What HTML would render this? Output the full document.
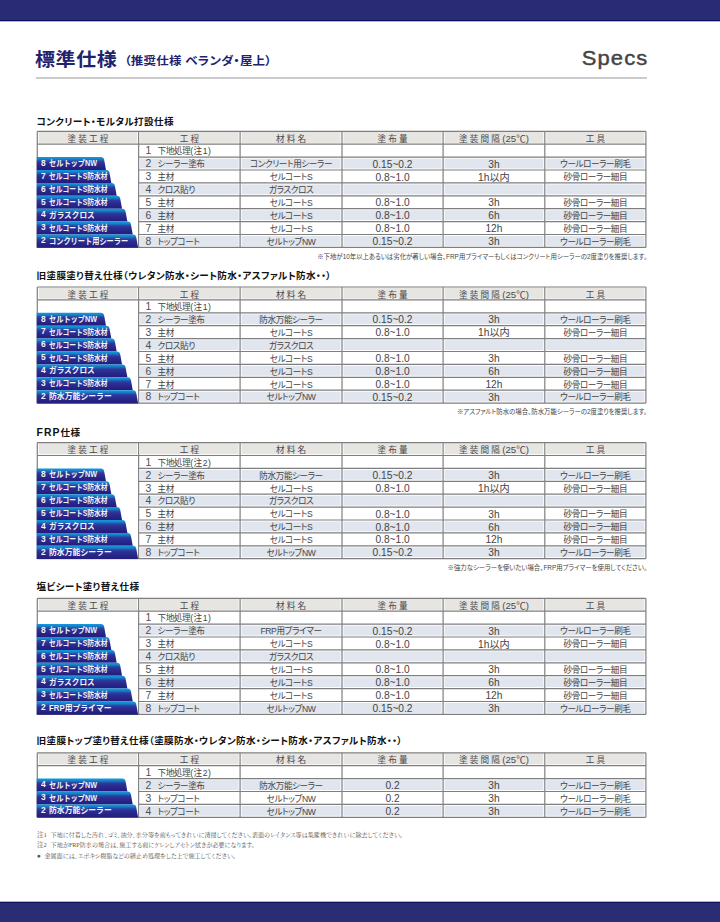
<!DOCTYPE html>
<html lang="ja"><head><meta charset="utf-8"><title>Specs</title>
<style>
*{margin:0;padding:0;box-sizing:border-box}
html,body{width:720px;height:922px;background:#fff;overflow:hidden}
body{position:relative;font-feature-settings:"palt";font-family:"Liberation Sans","Noto Sans CJK JP",sans-serif;color:#333}
.abs,.bt,.hd,.c2,.cc,.cn,.st,.fn{position:absolute;white-space:nowrap}
#g{position:absolute;left:0;top:0}
.topbar{position:absolute;left:0;top:0;width:720px;height:21px;background:#292b74;border-bottom:1px solid #0c0d5e;box-shadow:0 1px 0 rgba(40,40,110,0.35)}
.botbar{position:absolute;left:0;top:902px;width:720px;height:20px;background:#2a2c74;border-top:1px solid #0c0d5e;box-shadow:0 -1px 0 rgba(40,40,110,0.35)}
.h1{position:absolute;left:35px;top:45.5px;font-size:20px;font-weight:bold;color:#1e2370;letter-spacing:0.6px;line-height:28px;transform:scaleY(0.93);transform-origin:0 12.6px}
.h1 small{font-size:12.5px;letter-spacing:0.2px;margin-left:7px;vertical-align:1px}
.specs{position:absolute;right:71.2px;top:43.8px;font-size:20.5px;color:#444;letter-spacing:1.1px;transform:scaleX(1.07);transform-origin:100% 50%;-webkit-text-stroke:0.45px #444;line-height:28px;font-family:"Liberation Sans",sans-serif}
.rule{position:absolute;left:36px;top:77px;width:611px;height:2px;background:#cbcbcb}
.bt{left:40.3px;height:12.9px;line-height:12.9px;padding-top:0.9px;font-size:8.4px;font-weight:bold;color:#f2f2f8;font-feature-settings:normal}
.bn{display:inline-block;width:8.4px;font-size:9.6px;transform:scaleX(0.88);transform-origin:0 0;position:relative;left:0.8px;top:-0.3px}
.bx{display:inline-block;transform:scaleX(0.86);transform-origin:0 0}
.hd{height:12.9px;line-height:12.9px;padding-top:1.6px;font-size:8.6px;color:#4a4a4a;text-align:center}
.hd .t25{font-size:9.6px}
.hd .sp{letter-spacing:2.2px;margin-right:-2.2px}
.c2{left:145.5px;height:12.9px;line-height:12.9px;padding-top:1.3px;font-size:8.6px;letter-spacing:-0.42px;color:#444;font-weight:400}
.c2 .pn{letter-spacing:0.5px}
.c2 .no{display:inline-block;width:12px;letter-spacing:0;font-size:10.4px;color:#505050}
.cc{height:12.9px;line-height:12.9px;padding-top:1.3px;font-size:8.6px;letter-spacing:-0.42px;color:#444;text-align:center;font-weight:400}
.cn{height:12.9px;line-height:12.9px;padding-top:1.5px;font-size:10.2px;letter-spacing:0;color:#444;text-align:center}
.st{left:36.5px;font-size:9.6px;font-weight:bold;color:#111;line-height:14px;letter-spacing:0.35px}
.st .lat{font-size:10.4px;letter-spacing:1.1px}
.fn{right:73px;font-size:6.4px;color:#444;line-height:8px}
.notes{position:absolute;left:37px;top:830px;font-family:"Liberation Serif","Noto Serif CJK JP",serif;font-size:6.1px;color:#555;line-height:10.3px;white-space:nowrap}
.notes .nh{display:inline-block;width:13.6px;font-size:6.6px}
.notes .nb{display:inline-block;width:7.4px;font-size:6.6px;vertical-align:0}
</style></head><body>
<div class="topbar"></div>
<div class="h1">標準仕様<small>（推奨仕様 ベランダ・屋上）</small></div>
<div class="specs">Specs</div>
<div class="rule"></div>
<svg id="g" width="720" height="922" viewBox="0 0 720 922"><defs><linearGradient id="bg" x1="0" y1="0" x2="0" y2="1"><stop offset="0" stop-color="#1399da"/><stop offset="0.14" stop-color="#1686cc"/><stop offset="0.36" stop-color="#2a3b9e"/><stop offset="0.55" stop-color="#2c2b8e"/><stop offset="1" stop-color="#221c7e"/></linearGradient></defs><rect x="38.8" y="132" width="98.3" height="10.9" fill="#e7e5e2"/><rect x="140.1" y="132" width="98.5" height="10.9" fill="#e7e5e2"/><rect x="241.6" y="132" width="98.9" height="10.9" fill="#e7e5e2"/><rect x="343.5" y="132" width="98.1" height="10.9" fill="#e7e5e2"/><rect x="444.6" y="132" width="98.7" height="10.9" fill="#e7e5e2"/><rect x="546.3" y="132" width="98.1" height="10.9" fill="#e7e5e2"/><rect x="140.1" y="158.6" width="98.5" height="9.9" fill="#e0e5ee"/><rect x="241.6" y="158.6" width="98.9" height="9.9" fill="#e0e5ee"/><rect x="343.5" y="158.6" width="98.1" height="9.9" fill="#e0e5ee"/><rect x="444.6" y="158.6" width="98.7" height="9.9" fill="#e0e5ee"/><rect x="546.3" y="158.6" width="98.1" height="9.9" fill="#e0e5ee"/><rect x="140.1" y="184.4" width="98.5" height="9.9" fill="#e0e5ee"/><rect x="241.6" y="184.4" width="98.9" height="9.9" fill="#e0e5ee"/><rect x="343.5" y="184.4" width="98.1" height="9.9" fill="#e0e5ee"/><rect x="444.6" y="184.4" width="98.7" height="9.9" fill="#e0e5ee"/><rect x="546.3" y="184.4" width="98.1" height="9.9" fill="#e0e5ee"/><rect x="140.1" y="210.2" width="98.5" height="9.9" fill="#e0e5ee"/><rect x="241.6" y="210.2" width="98.9" height="9.9" fill="#e0e5ee"/><rect x="343.5" y="210.2" width="98.1" height="9.9" fill="#e0e5ee"/><rect x="444.6" y="210.2" width="98.7" height="9.9" fill="#e0e5ee"/><rect x="546.3" y="210.2" width="98.1" height="9.9" fill="#e0e5ee"/><rect x="140.1" y="236" width="98.5" height="9.9" fill="#e0e5ee"/><rect x="241.6" y="236" width="98.9" height="9.9" fill="#e0e5ee"/><rect x="343.5" y="236" width="98.1" height="9.9" fill="#e0e5ee"/><rect x="444.6" y="236" width="98.7" height="9.9" fill="#e0e5ee"/><rect x="546.3" y="236" width="98.1" height="9.9" fill="#e0e5ee"/><line x1="37.3" y1="131.3" x2="645.9" y2="131.3" stroke="#7e7e7e" stroke-width="1.2"/><line x1="37.3" y1="144.2" x2="645.9" y2="144.2" stroke="#7e7e7e" stroke-width="1.2"/><line x1="138.6" y1="157.1" x2="645.9" y2="157.1" stroke="#7e7e7e" stroke-width="1.2"/><line x1="138.6" y1="170" x2="645.9" y2="170" stroke="#7e7e7e" stroke-width="1.2"/><line x1="138.6" y1="182.9" x2="645.9" y2="182.9" stroke="#7e7e7e" stroke-width="1.2"/><line x1="138.6" y1="195.8" x2="645.9" y2="195.8" stroke="#7e7e7e" stroke-width="1.2"/><line x1="138.6" y1="208.7" x2="645.9" y2="208.7" stroke="#7e7e7e" stroke-width="1.2"/><line x1="138.6" y1="221.6" x2="645.9" y2="221.6" stroke="#7e7e7e" stroke-width="1.2"/><line x1="138.6" y1="234.5" x2="645.9" y2="234.5" stroke="#7e7e7e" stroke-width="1.2"/><line x1="37.3" y1="247.4" x2="645.9" y2="247.4" stroke="#7e7e7e" stroke-width="1.2"/><line x1="37.3" y1="131.3" x2="37.3" y2="247.4" stroke="#848484" stroke-width="1.25"/><line x1="138.6" y1="131.3" x2="138.6" y2="247.4" stroke="#848484" stroke-width="1.25"/><line x1="240.1" y1="131.3" x2="240.1" y2="247.4" stroke="#848484" stroke-width="1.25"/><line x1="342" y1="131.3" x2="342" y2="247.4" stroke="#848484" stroke-width="1.25"/><line x1="443.1" y1="131.3" x2="443.1" y2="247.4" stroke="#848484" stroke-width="1.25"/><line x1="544.8" y1="131.3" x2="544.8" y2="247.4" stroke="#848484" stroke-width="1.25"/><line x1="645.9" y1="131.3" x2="645.9" y2="247.4" stroke="#848484" stroke-width="1.25"/><path d="M36.7,157.1 L100.8,157.1 Q103.8,157.1 104.2,160.1 L106,170 L36.7,170 Z" fill="url(#bg)"/><path d="M36.7,170 L106.15,170 Q109.15,170 109.55,173 L111.35,182.9 L36.7,182.9 Z" fill="url(#bg)"/><path d="M36.7,182.9 L111.5,182.9 Q114.5,182.9 114.9,185.9 L116.7,195.8 L36.7,195.8 Z" fill="url(#bg)"/><path d="M36.7,195.8 L116.85,195.8 Q119.85,195.8 120.25,198.8 L122.05,208.7 L36.7,208.7 Z" fill="url(#bg)"/><path d="M36.7,208.7 L122.2,208.7 Q125.2,208.7 125.6,211.7 L127.4,221.6 L36.7,221.6 Z" fill="url(#bg)"/><path d="M36.7,221.6 L127.55,221.6 Q130.55,221.6 130.95,224.6 L132.75,234.5 L36.7,234.5 Z" fill="url(#bg)"/><path d="M36.7,234.5 L132.9,234.5 Q135.9,234.5 136.3,237.5 L138.1,247.7 L36.7,247.7 Z" fill="url(#bg)"/><rect x="38.8" y="287.7" width="98.3" height="10.9" fill="#e7e5e2"/><rect x="140.1" y="287.7" width="98.5" height="10.9" fill="#e7e5e2"/><rect x="241.6" y="287.7" width="98.9" height="10.9" fill="#e7e5e2"/><rect x="343.5" y="287.7" width="98.1" height="10.9" fill="#e7e5e2"/><rect x="444.6" y="287.7" width="98.7" height="10.9" fill="#e7e5e2"/><rect x="546.3" y="287.7" width="98.1" height="10.9" fill="#e7e5e2"/><rect x="140.1" y="314.3" width="98.5" height="9.9" fill="#e0e5ee"/><rect x="241.6" y="314.3" width="98.9" height="9.9" fill="#e0e5ee"/><rect x="343.5" y="314.3" width="98.1" height="9.9" fill="#e0e5ee"/><rect x="444.6" y="314.3" width="98.7" height="9.9" fill="#e0e5ee"/><rect x="546.3" y="314.3" width="98.1" height="9.9" fill="#e0e5ee"/><rect x="140.1" y="340.1" width="98.5" height="9.9" fill="#e0e5ee"/><rect x="241.6" y="340.1" width="98.9" height="9.9" fill="#e0e5ee"/><rect x="343.5" y="340.1" width="98.1" height="9.9" fill="#e0e5ee"/><rect x="444.6" y="340.1" width="98.7" height="9.9" fill="#e0e5ee"/><rect x="546.3" y="340.1" width="98.1" height="9.9" fill="#e0e5ee"/><rect x="140.1" y="365.9" width="98.5" height="9.9" fill="#e0e5ee"/><rect x="241.6" y="365.9" width="98.9" height="9.9" fill="#e0e5ee"/><rect x="343.5" y="365.9" width="98.1" height="9.9" fill="#e0e5ee"/><rect x="444.6" y="365.9" width="98.7" height="9.9" fill="#e0e5ee"/><rect x="546.3" y="365.9" width="98.1" height="9.9" fill="#e0e5ee"/><rect x="140.1" y="391.7" width="98.5" height="9.9" fill="#e0e5ee"/><rect x="241.6" y="391.7" width="98.9" height="9.9" fill="#e0e5ee"/><rect x="343.5" y="391.7" width="98.1" height="9.9" fill="#e0e5ee"/><rect x="444.6" y="391.7" width="98.7" height="9.9" fill="#e0e5ee"/><rect x="546.3" y="391.7" width="98.1" height="9.9" fill="#e0e5ee"/><line x1="37.3" y1="287" x2="645.9" y2="287" stroke="#7e7e7e" stroke-width="1.2"/><line x1="37.3" y1="299.9" x2="645.9" y2="299.9" stroke="#7e7e7e" stroke-width="1.2"/><line x1="138.6" y1="312.8" x2="645.9" y2="312.8" stroke="#7e7e7e" stroke-width="1.2"/><line x1="138.6" y1="325.7" x2="645.9" y2="325.7" stroke="#7e7e7e" stroke-width="1.2"/><line x1="138.6" y1="338.6" x2="645.9" y2="338.6" stroke="#7e7e7e" stroke-width="1.2"/><line x1="138.6" y1="351.5" x2="645.9" y2="351.5" stroke="#7e7e7e" stroke-width="1.2"/><line x1="138.6" y1="364.4" x2="645.9" y2="364.4" stroke="#7e7e7e" stroke-width="1.2"/><line x1="138.6" y1="377.3" x2="645.9" y2="377.3" stroke="#7e7e7e" stroke-width="1.2"/><line x1="138.6" y1="390.2" x2="645.9" y2="390.2" stroke="#7e7e7e" stroke-width="1.2"/><line x1="37.3" y1="403.1" x2="645.9" y2="403.1" stroke="#7e7e7e" stroke-width="1.2"/><line x1="37.3" y1="287" x2="37.3" y2="403.1" stroke="#848484" stroke-width="1.25"/><line x1="138.6" y1="287" x2="138.6" y2="403.1" stroke="#848484" stroke-width="1.25"/><line x1="240.1" y1="287" x2="240.1" y2="403.1" stroke="#848484" stroke-width="1.25"/><line x1="342" y1="287" x2="342" y2="403.1" stroke="#848484" stroke-width="1.25"/><line x1="443.1" y1="287" x2="443.1" y2="403.1" stroke="#848484" stroke-width="1.25"/><line x1="544.8" y1="287" x2="544.8" y2="403.1" stroke="#848484" stroke-width="1.25"/><line x1="645.9" y1="287" x2="645.9" y2="403.1" stroke="#848484" stroke-width="1.25"/><path d="M36.7,312.8 L100.8,312.8 Q103.8,312.8 104.2,315.8 L106,325.7 L36.7,325.7 Z" fill="url(#bg)"/><path d="M36.7,325.7 L106.15,325.7 Q109.15,325.7 109.55,328.7 L111.35,338.6 L36.7,338.6 Z" fill="url(#bg)"/><path d="M36.7,338.6 L111.5,338.6 Q114.5,338.6 114.9,341.6 L116.7,351.5 L36.7,351.5 Z" fill="url(#bg)"/><path d="M36.7,351.5 L116.85,351.5 Q119.85,351.5 120.25,354.5 L122.05,364.4 L36.7,364.4 Z" fill="url(#bg)"/><path d="M36.7,364.4 L122.2,364.4 Q125.2,364.4 125.6,367.4 L127.4,377.3 L36.7,377.3 Z" fill="url(#bg)"/><path d="M36.7,377.3 L127.55,377.3 Q130.55,377.3 130.95,380.3 L132.75,390.2 L36.7,390.2 Z" fill="url(#bg)"/><path d="M36.7,390.2 L132.9,390.2 Q135.9,390.2 136.3,393.2 L138.1,403.4 L36.7,403.4 Z" fill="url(#bg)"/><rect x="38.8" y="443.3" width="98.3" height="10.9" fill="#e7e5e2"/><rect x="140.1" y="443.3" width="98.5" height="10.9" fill="#e7e5e2"/><rect x="241.6" y="443.3" width="98.9" height="10.9" fill="#e7e5e2"/><rect x="343.5" y="443.3" width="98.1" height="10.9" fill="#e7e5e2"/><rect x="444.6" y="443.3" width="98.7" height="10.9" fill="#e7e5e2"/><rect x="546.3" y="443.3" width="98.1" height="10.9" fill="#e7e5e2"/><rect x="140.1" y="469.9" width="98.5" height="9.9" fill="#e0e5ee"/><rect x="241.6" y="469.9" width="98.9" height="9.9" fill="#e0e5ee"/><rect x="343.5" y="469.9" width="98.1" height="9.9" fill="#e0e5ee"/><rect x="444.6" y="469.9" width="98.7" height="9.9" fill="#e0e5ee"/><rect x="546.3" y="469.9" width="98.1" height="9.9" fill="#e0e5ee"/><rect x="140.1" y="495.7" width="98.5" height="9.9" fill="#e0e5ee"/><rect x="241.6" y="495.7" width="98.9" height="9.9" fill="#e0e5ee"/><rect x="343.5" y="495.7" width="98.1" height="9.9" fill="#e0e5ee"/><rect x="444.6" y="495.7" width="98.7" height="9.9" fill="#e0e5ee"/><rect x="546.3" y="495.7" width="98.1" height="9.9" fill="#e0e5ee"/><rect x="140.1" y="521.5" width="98.5" height="9.9" fill="#e0e5ee"/><rect x="241.6" y="521.5" width="98.9" height="9.9" fill="#e0e5ee"/><rect x="343.5" y="521.5" width="98.1" height="9.9" fill="#e0e5ee"/><rect x="444.6" y="521.5" width="98.7" height="9.9" fill="#e0e5ee"/><rect x="546.3" y="521.5" width="98.1" height="9.9" fill="#e0e5ee"/><rect x="140.1" y="547.3" width="98.5" height="9.9" fill="#e0e5ee"/><rect x="241.6" y="547.3" width="98.9" height="9.9" fill="#e0e5ee"/><rect x="343.5" y="547.3" width="98.1" height="9.9" fill="#e0e5ee"/><rect x="444.6" y="547.3" width="98.7" height="9.9" fill="#e0e5ee"/><rect x="546.3" y="547.3" width="98.1" height="9.9" fill="#e0e5ee"/><line x1="37.3" y1="442.6" x2="645.9" y2="442.6" stroke="#7e7e7e" stroke-width="1.2"/><line x1="37.3" y1="455.5" x2="645.9" y2="455.5" stroke="#7e7e7e" stroke-width="1.2"/><line x1="138.6" y1="468.4" x2="645.9" y2="468.4" stroke="#7e7e7e" stroke-width="1.2"/><line x1="138.6" y1="481.3" x2="645.9" y2="481.3" stroke="#7e7e7e" stroke-width="1.2"/><line x1="138.6" y1="494.2" x2="645.9" y2="494.2" stroke="#7e7e7e" stroke-width="1.2"/><line x1="138.6" y1="507.1" x2="645.9" y2="507.1" stroke="#7e7e7e" stroke-width="1.2"/><line x1="138.6" y1="520" x2="645.9" y2="520" stroke="#7e7e7e" stroke-width="1.2"/><line x1="138.6" y1="532.9" x2="645.9" y2="532.9" stroke="#7e7e7e" stroke-width="1.2"/><line x1="138.6" y1="545.8" x2="645.9" y2="545.8" stroke="#7e7e7e" stroke-width="1.2"/><line x1="37.3" y1="558.7" x2="645.9" y2="558.7" stroke="#7e7e7e" stroke-width="1.2"/><line x1="37.3" y1="442.6" x2="37.3" y2="558.7" stroke="#848484" stroke-width="1.25"/><line x1="138.6" y1="442.6" x2="138.6" y2="558.7" stroke="#848484" stroke-width="1.25"/><line x1="240.1" y1="442.6" x2="240.1" y2="558.7" stroke="#848484" stroke-width="1.25"/><line x1="342" y1="442.6" x2="342" y2="558.7" stroke="#848484" stroke-width="1.25"/><line x1="443.1" y1="442.6" x2="443.1" y2="558.7" stroke="#848484" stroke-width="1.25"/><line x1="544.8" y1="442.6" x2="544.8" y2="558.7" stroke="#848484" stroke-width="1.25"/><line x1="645.9" y1="442.6" x2="645.9" y2="558.7" stroke="#848484" stroke-width="1.25"/><path d="M36.7,468.4 L100.8,468.4 Q103.8,468.4 104.2,471.4 L106,481.3 L36.7,481.3 Z" fill="url(#bg)"/><path d="M36.7,481.3 L106.15,481.3 Q109.15,481.3 109.55,484.3 L111.35,494.2 L36.7,494.2 Z" fill="url(#bg)"/><path d="M36.7,494.2 L111.5,494.2 Q114.5,494.2 114.9,497.2 L116.7,507.1 L36.7,507.1 Z" fill="url(#bg)"/><path d="M36.7,507.1 L116.85,507.1 Q119.85,507.1 120.25,510.1 L122.05,520 L36.7,520 Z" fill="url(#bg)"/><path d="M36.7,520 L122.2,520 Q125.2,520 125.6,523 L127.4,532.9 L36.7,532.9 Z" fill="url(#bg)"/><path d="M36.7,532.9 L127.55,532.9 Q130.55,532.9 130.95,535.9 L132.75,545.8 L36.7,545.8 Z" fill="url(#bg)"/><path d="M36.7,545.8 L132.9,545.8 Q135.9,545.8 136.3,548.8 L138.1,559 L36.7,559 Z" fill="url(#bg)"/><rect x="38.8" y="599" width="98.3" height="10.9" fill="#e7e5e2"/><rect x="140.1" y="599" width="98.5" height="10.9" fill="#e7e5e2"/><rect x="241.6" y="599" width="98.9" height="10.9" fill="#e7e5e2"/><rect x="343.5" y="599" width="98.1" height="10.9" fill="#e7e5e2"/><rect x="444.6" y="599" width="98.7" height="10.9" fill="#e7e5e2"/><rect x="546.3" y="599" width="98.1" height="10.9" fill="#e7e5e2"/><rect x="140.1" y="625.6" width="98.5" height="9.9" fill="#e0e5ee"/><rect x="241.6" y="625.6" width="98.9" height="9.9" fill="#e0e5ee"/><rect x="343.5" y="625.6" width="98.1" height="9.9" fill="#e0e5ee"/><rect x="444.6" y="625.6" width="98.7" height="9.9" fill="#e0e5ee"/><rect x="546.3" y="625.6" width="98.1" height="9.9" fill="#e0e5ee"/><rect x="140.1" y="651.4" width="98.5" height="9.9" fill="#e0e5ee"/><rect x="241.6" y="651.4" width="98.9" height="9.9" fill="#e0e5ee"/><rect x="343.5" y="651.4" width="98.1" height="9.9" fill="#e0e5ee"/><rect x="444.6" y="651.4" width="98.7" height="9.9" fill="#e0e5ee"/><rect x="546.3" y="651.4" width="98.1" height="9.9" fill="#e0e5ee"/><rect x="140.1" y="677.2" width="98.5" height="9.9" fill="#e0e5ee"/><rect x="241.6" y="677.2" width="98.9" height="9.9" fill="#e0e5ee"/><rect x="343.5" y="677.2" width="98.1" height="9.9" fill="#e0e5ee"/><rect x="444.6" y="677.2" width="98.7" height="9.9" fill="#e0e5ee"/><rect x="546.3" y="677.2" width="98.1" height="9.9" fill="#e0e5ee"/><rect x="140.1" y="703" width="98.5" height="9.9" fill="#e0e5ee"/><rect x="241.6" y="703" width="98.9" height="9.9" fill="#e0e5ee"/><rect x="343.5" y="703" width="98.1" height="9.9" fill="#e0e5ee"/><rect x="444.6" y="703" width="98.7" height="9.9" fill="#e0e5ee"/><rect x="546.3" y="703" width="98.1" height="9.9" fill="#e0e5ee"/><line x1="37.3" y1="598.3" x2="645.9" y2="598.3" stroke="#7e7e7e" stroke-width="1.2"/><line x1="37.3" y1="611.2" x2="645.9" y2="611.2" stroke="#7e7e7e" stroke-width="1.2"/><line x1="138.6" y1="624.1" x2="645.9" y2="624.1" stroke="#7e7e7e" stroke-width="1.2"/><line x1="138.6" y1="637" x2="645.9" y2="637" stroke="#7e7e7e" stroke-width="1.2"/><line x1="138.6" y1="649.9" x2="645.9" y2="649.9" stroke="#7e7e7e" stroke-width="1.2"/><line x1="138.6" y1="662.8" x2="645.9" y2="662.8" stroke="#7e7e7e" stroke-width="1.2"/><line x1="138.6" y1="675.7" x2="645.9" y2="675.7" stroke="#7e7e7e" stroke-width="1.2"/><line x1="138.6" y1="688.6" x2="645.9" y2="688.6" stroke="#7e7e7e" stroke-width="1.2"/><line x1="138.6" y1="701.5" x2="645.9" y2="701.5" stroke="#7e7e7e" stroke-width="1.2"/><line x1="37.3" y1="714.4" x2="645.9" y2="714.4" stroke="#7e7e7e" stroke-width="1.2"/><line x1="37.3" y1="598.3" x2="37.3" y2="714.4" stroke="#848484" stroke-width="1.25"/><line x1="138.6" y1="598.3" x2="138.6" y2="714.4" stroke="#848484" stroke-width="1.25"/><line x1="240.1" y1="598.3" x2="240.1" y2="714.4" stroke="#848484" stroke-width="1.25"/><line x1="342" y1="598.3" x2="342" y2="714.4" stroke="#848484" stroke-width="1.25"/><line x1="443.1" y1="598.3" x2="443.1" y2="714.4" stroke="#848484" stroke-width="1.25"/><line x1="544.8" y1="598.3" x2="544.8" y2="714.4" stroke="#848484" stroke-width="1.25"/><line x1="645.9" y1="598.3" x2="645.9" y2="714.4" stroke="#848484" stroke-width="1.25"/><path d="M36.7,624.1 L100.8,624.1 Q103.8,624.1 104.2,627.1 L106,637 L36.7,637 Z" fill="url(#bg)"/><path d="M36.7,637 L106.15,637 Q109.15,637 109.55,640 L111.35,649.9 L36.7,649.9 Z" fill="url(#bg)"/><path d="M36.7,649.9 L111.5,649.9 Q114.5,649.9 114.9,652.9 L116.7,662.8 L36.7,662.8 Z" fill="url(#bg)"/><path d="M36.7,662.8 L116.85,662.8 Q119.85,662.8 120.25,665.8 L122.05,675.7 L36.7,675.7 Z" fill="url(#bg)"/><path d="M36.7,675.7 L122.2,675.7 Q125.2,675.7 125.6,678.7 L127.4,688.6 L36.7,688.6 Z" fill="url(#bg)"/><path d="M36.7,688.6 L127.55,688.6 Q130.55,688.6 130.95,691.6 L132.75,701.5 L36.7,701.5 Z" fill="url(#bg)"/><path d="M36.7,701.5 L132.9,701.5 Q135.9,701.5 136.3,704.5 L138.1,714.7 L36.7,714.7 Z" fill="url(#bg)"/><rect x="38.8" y="753.5" width="98.3" height="10.9" fill="#e7e5e2"/><rect x="140.1" y="753.5" width="98.5" height="10.9" fill="#e7e5e2"/><rect x="241.6" y="753.5" width="98.9" height="10.9" fill="#e7e5e2"/><rect x="343.5" y="753.5" width="98.1" height="10.9" fill="#e7e5e2"/><rect x="444.6" y="753.5" width="98.7" height="10.9" fill="#e7e5e2"/><rect x="546.3" y="753.5" width="98.1" height="10.9" fill="#e7e5e2"/><rect x="140.1" y="780.1" width="98.5" height="9.9" fill="#e0e5ee"/><rect x="241.6" y="780.1" width="98.9" height="9.9" fill="#e0e5ee"/><rect x="343.5" y="780.1" width="98.1" height="9.9" fill="#e0e5ee"/><rect x="444.6" y="780.1" width="98.7" height="9.9" fill="#e0e5ee"/><rect x="546.3" y="780.1" width="98.1" height="9.9" fill="#e0e5ee"/><rect x="140.1" y="805.9" width="98.5" height="9.9" fill="#e0e5ee"/><rect x="241.6" y="805.9" width="98.9" height="9.9" fill="#e0e5ee"/><rect x="343.5" y="805.9" width="98.1" height="9.9" fill="#e0e5ee"/><rect x="444.6" y="805.9" width="98.7" height="9.9" fill="#e0e5ee"/><rect x="546.3" y="805.9" width="98.1" height="9.9" fill="#e0e5ee"/><line x1="37.3" y1="752.8" x2="645.9" y2="752.8" stroke="#7e7e7e" stroke-width="1.2"/><line x1="37.3" y1="765.7" x2="645.9" y2="765.7" stroke="#7e7e7e" stroke-width="1.2"/><line x1="138.6" y1="778.6" x2="645.9" y2="778.6" stroke="#7e7e7e" stroke-width="1.2"/><line x1="138.6" y1="791.5" x2="645.9" y2="791.5" stroke="#7e7e7e" stroke-width="1.2"/><line x1="138.6" y1="804.4" x2="645.9" y2="804.4" stroke="#7e7e7e" stroke-width="1.2"/><line x1="37.3" y1="817.3" x2="645.9" y2="817.3" stroke="#7e7e7e" stroke-width="1.2"/><line x1="37.3" y1="752.8" x2="37.3" y2="817.3" stroke="#848484" stroke-width="1.25"/><line x1="138.6" y1="752.8" x2="138.6" y2="817.3" stroke="#848484" stroke-width="1.25"/><line x1="240.1" y1="752.8" x2="240.1" y2="817.3" stroke="#848484" stroke-width="1.25"/><line x1="342" y1="752.8" x2="342" y2="817.3" stroke="#848484" stroke-width="1.25"/><line x1="443.1" y1="752.8" x2="443.1" y2="817.3" stroke="#848484" stroke-width="1.25"/><line x1="544.8" y1="752.8" x2="544.8" y2="817.3" stroke="#848484" stroke-width="1.25"/><line x1="645.9" y1="752.8" x2="645.9" y2="817.3" stroke="#848484" stroke-width="1.25"/><path d="M36.7,778.6 L122.2,778.6 Q125.2,778.6 125.6,781.6 L127.4,791.5 L36.7,791.5 Z" fill="url(#bg)"/><path d="M36.7,791.5 L127.55,791.5 Q130.55,791.5 130.95,794.5 L132.75,804.4 L36.7,804.4 Z" fill="url(#bg)"/><path d="M36.7,804.4 L132.9,804.4 Q135.9,804.4 136.3,807.4 L138.1,817.6 L36.7,817.6 Z" fill="url(#bg)"/></svg>
<div class="bt" style="top:156.3px"><span class="bn">8</span><span class="bx" style="transform:scaleX(0.860)">セルトップNW</span></div>
<div class="bt" style="top:169.2px"><span class="bn">7</span><span class="bx" style="transform:scaleX(0.808)">セルコートS防水材</span></div>
<div class="bt" style="top:182.1px"><span class="bn">6</span><span class="bx" style="transform:scaleX(0.808)">セルコートS防水材</span></div>
<div class="bt" style="top:195px"><span class="bn">5</span><span class="bx" style="transform:scaleX(0.808)">セルコートS防水材</span></div>
<div class="bt" style="top:207.9px"><span class="bn">4</span><span class="bx" style="transform:scaleX(0.912)">ガラスクロス</span></div>
<div class="bt" style="top:220.8px"><span class="bn">3</span><span class="bx" style="transform:scaleX(0.808)">セルコートS防水材</span></div>
<div class="bt" style="top:233.7px"><span class="bn">2</span><span class="bx" style="transform:scaleX(0.860)">コンクリート用シーラー</span></div>
<div class="hd" style="left:37.3px;width:101.3px;top:131.3px"><span class="sp">塗装工程</span></div>
<div class="hd" style="left:138.6px;width:101.5px;top:131.3px"><span class="sp">工程</span></div>
<div class="hd" style="left:240.1px;width:101.9px;top:131.3px"><span class="sp">材料名</span></div>
<div class="hd" style="left:342px;width:101.1px;top:131.3px"><span class="sp">塗布量</span></div>
<div class="hd" style="left:443.1px;width:101.7px;top:131.3px"><span class="sp">塗装間隔</span> <span class="t25">(25℃)</span></div>
<div class="hd" style="left:544.8px;width:101.1px;top:131.3px"><span class="sp">工具</span></div>
<div class="c2" style="top:144.2px"><span class="no">1</span>下地処理<span class=pn>(注1)</span></div>
<div class="c2" style="top:157.1px"><span class="no">2</span>シーラー塗布</div>
<div class="cc" style="left:240.1px;width:101.9px;top:157.1px">コンクリート用シーラー</div>
<div class="cn" style="left:342px;width:101.1px;top:157.1px">0.15~0.2</div>
<div class="cn" style="left:443.1px;width:101.7px;top:157.1px">3h</div>
<div class="cc" style="left:544.8px;width:101.1px;top:157.1px">ウールローラー刷毛</div>
<div class="c2" style="top:170px"><span class="no">3</span>主材</div>
<div class="cc" style="left:240.1px;width:101.9px;top:170px">セルコートS</div>
<div class="cn" style="left:342px;width:101.1px;top:170px">0.8~1.0</div>
<div class="cn" style="left:443.1px;width:101.7px;top:170px">1h以内</div>
<div class="cc" style="left:544.8px;width:101.1px;top:170px">砂骨ローラー細目</div>
<div class="c2" style="top:182.9px"><span class="no">4</span>クロス貼り</div>
<div class="cc" style="left:240.1px;width:101.9px;top:182.9px">ガラスクロス</div>
<div class="c2" style="top:195.8px"><span class="no">5</span>主材</div>
<div class="cc" style="left:240.1px;width:101.9px;top:195.8px">セルコートS</div>
<div class="cn" style="left:342px;width:101.1px;top:195.8px">0.8~1.0</div>
<div class="cn" style="left:443.1px;width:101.7px;top:195.8px">3h</div>
<div class="cc" style="left:544.8px;width:101.1px;top:195.8px">砂骨ローラー細目</div>
<div class="c2" style="top:208.7px"><span class="no">6</span>主材</div>
<div class="cc" style="left:240.1px;width:101.9px;top:208.7px">セルコートS</div>
<div class="cn" style="left:342px;width:101.1px;top:208.7px">0.8~1.0</div>
<div class="cn" style="left:443.1px;width:101.7px;top:208.7px">6h</div>
<div class="cc" style="left:544.8px;width:101.1px;top:208.7px">砂骨ローラー細目</div>
<div class="c2" style="top:221.6px"><span class="no">7</span>主材</div>
<div class="cc" style="left:240.1px;width:101.9px;top:221.6px">セルコートS</div>
<div class="cn" style="left:342px;width:101.1px;top:221.6px">0.8~1.0</div>
<div class="cn" style="left:443.1px;width:101.7px;top:221.6px">12h</div>
<div class="cc" style="left:544.8px;width:101.1px;top:221.6px">砂骨ローラー細目</div>
<div class="c2" style="top:234.5px"><span class="no">8</span>トップコート</div>
<div class="cc" style="left:240.1px;width:101.9px;top:234.5px">セルトップNW</div>
<div class="cn" style="left:342px;width:101.1px;top:234.5px">0.15~0.2</div>
<div class="cn" style="left:443.1px;width:101.7px;top:234.5px">3h</div>
<div class="cc" style="left:544.8px;width:101.1px;top:234.5px">ウールローラー刷毛</div>
<div class="st" style="top:114.6px">コンクリート・モルタル打設仕様</div>
<div class="fn" style="top:252.6px">※下地が10年以上あるいは劣化が著しい場合、FRP用プライマーもしくはコンクリート用シーラーの2度塗りを推奨します。</div>
<div class="bt" style="top:312px"><span class="bn">8</span><span class="bx" style="transform:scaleX(0.860)">セルトップNW</span></div>
<div class="bt" style="top:324.9px"><span class="bn">7</span><span class="bx" style="transform:scaleX(0.808)">セルコートS防水材</span></div>
<div class="bt" style="top:337.8px"><span class="bn">6</span><span class="bx" style="transform:scaleX(0.808)">セルコートS防水材</span></div>
<div class="bt" style="top:350.7px"><span class="bn">5</span><span class="bx" style="transform:scaleX(0.808)">セルコートS防水材</span></div>
<div class="bt" style="top:363.6px"><span class="bn">4</span><span class="bx" style="transform:scaleX(0.912)">ガラスクロス</span></div>
<div class="bt" style="top:376.5px"><span class="bn">3</span><span class="bx" style="transform:scaleX(0.808)">セルコートS防水材</span></div>
<div class="bt" style="top:389.4px"><span class="bn">2</span><span class="bx" style="transform:scaleX(0.937)">防水万能シーラー</span></div>
<div class="hd" style="left:37.3px;width:101.3px;top:287px"><span class="sp">塗装工程</span></div>
<div class="hd" style="left:138.6px;width:101.5px;top:287px"><span class="sp">工程</span></div>
<div class="hd" style="left:240.1px;width:101.9px;top:287px"><span class="sp">材料名</span></div>
<div class="hd" style="left:342px;width:101.1px;top:287px"><span class="sp">塗布量</span></div>
<div class="hd" style="left:443.1px;width:101.7px;top:287px"><span class="sp">塗装間隔</span> <span class="t25">(25℃)</span></div>
<div class="hd" style="left:544.8px;width:101.1px;top:287px"><span class="sp">工具</span></div>
<div class="c2" style="top:299.9px"><span class="no">1</span>下地処理<span class=pn>(注1)</span></div>
<div class="c2" style="top:312.8px"><span class="no">2</span>シーラー塗布</div>
<div class="cc" style="left:240.1px;width:101.9px;top:312.8px">防水万能シーラー</div>
<div class="cn" style="left:342px;width:101.1px;top:312.8px">0.15~0.2</div>
<div class="cn" style="left:443.1px;width:101.7px;top:312.8px">3h</div>
<div class="cc" style="left:544.8px;width:101.1px;top:312.8px">ウールローラー刷毛</div>
<div class="c2" style="top:325.7px"><span class="no">3</span>主材</div>
<div class="cc" style="left:240.1px;width:101.9px;top:325.7px">セルコートS</div>
<div class="cn" style="left:342px;width:101.1px;top:325.7px">0.8~1.0</div>
<div class="cn" style="left:443.1px;width:101.7px;top:325.7px">1h以内</div>
<div class="cc" style="left:544.8px;width:101.1px;top:325.7px">砂骨ローラー細目</div>
<div class="c2" style="top:338.6px"><span class="no">4</span>クロス貼り</div>
<div class="cc" style="left:240.1px;width:101.9px;top:338.6px">ガラスクロス</div>
<div class="c2" style="top:351.5px"><span class="no">5</span>主材</div>
<div class="cc" style="left:240.1px;width:101.9px;top:351.5px">セルコートS</div>
<div class="cn" style="left:342px;width:101.1px;top:351.5px">0.8~1.0</div>
<div class="cn" style="left:443.1px;width:101.7px;top:351.5px">3h</div>
<div class="cc" style="left:544.8px;width:101.1px;top:351.5px">砂骨ローラー細目</div>
<div class="c2" style="top:364.4px"><span class="no">6</span>主材</div>
<div class="cc" style="left:240.1px;width:101.9px;top:364.4px">セルコートS</div>
<div class="cn" style="left:342px;width:101.1px;top:364.4px">0.8~1.0</div>
<div class="cn" style="left:443.1px;width:101.7px;top:364.4px">6h</div>
<div class="cc" style="left:544.8px;width:101.1px;top:364.4px">砂骨ローラー細目</div>
<div class="c2" style="top:377.3px"><span class="no">7</span>主材</div>
<div class="cc" style="left:240.1px;width:101.9px;top:377.3px">セルコートS</div>
<div class="cn" style="left:342px;width:101.1px;top:377.3px">0.8~1.0</div>
<div class="cn" style="left:443.1px;width:101.7px;top:377.3px">12h</div>
<div class="cc" style="left:544.8px;width:101.1px;top:377.3px">砂骨ローラー細目</div>
<div class="c2" style="top:390.2px"><span class="no">8</span>トップコート</div>
<div class="cc" style="left:240.1px;width:101.9px;top:390.2px">セルトップNW</div>
<div class="cn" style="left:342px;width:101.1px;top:390.2px">0.15~0.2</div>
<div class="cn" style="left:443.1px;width:101.7px;top:390.2px">3h</div>
<div class="cc" style="left:544.8px;width:101.1px;top:390.2px">ウールローラー刷毛</div>
<div class="st" style="top:269px">旧塗膜塗り替え仕様（ウレタン防水・シート防水・アスファルト防水・・）</div>
<div class="fn" style="top:408.3px">※アスファルト防水の場合、防水万能シーラーの2度塗りを推奨します。</div>
<div class="bt" style="top:467.6px"><span class="bn">8</span><span class="bx" style="transform:scaleX(0.860)">セルトップNW</span></div>
<div class="bt" style="top:480.5px"><span class="bn">7</span><span class="bx" style="transform:scaleX(0.808)">セルコートS防水材</span></div>
<div class="bt" style="top:493.4px"><span class="bn">6</span><span class="bx" style="transform:scaleX(0.808)">セルコートS防水材</span></div>
<div class="bt" style="top:506.3px"><span class="bn">5</span><span class="bx" style="transform:scaleX(0.808)">セルコートS防水材</span></div>
<div class="bt" style="top:519.2px"><span class="bn">4</span><span class="bx" style="transform:scaleX(0.912)">ガラスクロス</span></div>
<div class="bt" style="top:532.1px"><span class="bn">3</span><span class="bx" style="transform:scaleX(0.808)">セルコートS防水材</span></div>
<div class="bt" style="top:545px"><span class="bn">2</span><span class="bx" style="transform:scaleX(0.937)">防水万能シーラー</span></div>
<div class="hd" style="left:37.3px;width:101.3px;top:442.6px"><span class="sp">塗装工程</span></div>
<div class="hd" style="left:138.6px;width:101.5px;top:442.6px"><span class="sp">工程</span></div>
<div class="hd" style="left:240.1px;width:101.9px;top:442.6px"><span class="sp">材料名</span></div>
<div class="hd" style="left:342px;width:101.1px;top:442.6px"><span class="sp">塗布量</span></div>
<div class="hd" style="left:443.1px;width:101.7px;top:442.6px"><span class="sp">塗装間隔</span> <span class="t25">(25℃)</span></div>
<div class="hd" style="left:544.8px;width:101.1px;top:442.6px"><span class="sp">工具</span></div>
<div class="c2" style="top:455.5px"><span class="no">1</span>下地処理<span class=pn>(注2)</span></div>
<div class="c2" style="top:468.4px"><span class="no">2</span>シーラー塗布</div>
<div class="cc" style="left:240.1px;width:101.9px;top:468.4px">防水万能シーラー</div>
<div class="cn" style="left:342px;width:101.1px;top:468.4px">0.15~0.2</div>
<div class="cn" style="left:443.1px;width:101.7px;top:468.4px">3h</div>
<div class="cc" style="left:544.8px;width:101.1px;top:468.4px">ウールローラー刷毛</div>
<div class="c2" style="top:481.3px"><span class="no">3</span>主材</div>
<div class="cc" style="left:240.1px;width:101.9px;top:481.3px">セルコートS</div>
<div class="cn" style="left:342px;width:101.1px;top:481.3px">0.8~1.0</div>
<div class="cn" style="left:443.1px;width:101.7px;top:481.3px">1h以内</div>
<div class="cc" style="left:544.8px;width:101.1px;top:481.3px">砂骨ローラー細目</div>
<div class="c2" style="top:494.2px"><span class="no">4</span>クロス貼り</div>
<div class="cc" style="left:240.1px;width:101.9px;top:494.2px">ガラスクロス</div>
<div class="c2" style="top:507.1px"><span class="no">5</span>主材</div>
<div class="cc" style="left:240.1px;width:101.9px;top:507.1px">セルコートS</div>
<div class="cn" style="left:342px;width:101.1px;top:507.1px">0.8~1.0</div>
<div class="cn" style="left:443.1px;width:101.7px;top:507.1px">3h</div>
<div class="cc" style="left:544.8px;width:101.1px;top:507.1px">砂骨ローラー細目</div>
<div class="c2" style="top:520px"><span class="no">6</span>主材</div>
<div class="cc" style="left:240.1px;width:101.9px;top:520px">セルコートS</div>
<div class="cn" style="left:342px;width:101.1px;top:520px">0.8~1.0</div>
<div class="cn" style="left:443.1px;width:101.7px;top:520px">6h</div>
<div class="cc" style="left:544.8px;width:101.1px;top:520px">砂骨ローラー細目</div>
<div class="c2" style="top:532.9px"><span class="no">7</span>主材</div>
<div class="cc" style="left:240.1px;width:101.9px;top:532.9px">セルコートS</div>
<div class="cn" style="left:342px;width:101.1px;top:532.9px">0.8~1.0</div>
<div class="cn" style="left:443.1px;width:101.7px;top:532.9px">12h</div>
<div class="cc" style="left:544.8px;width:101.1px;top:532.9px">砂骨ローラー細目</div>
<div class="c2" style="top:545.8px"><span class="no">8</span>トップコート</div>
<div class="cc" style="left:240.1px;width:101.9px;top:545.8px">セルトップNW</div>
<div class="cn" style="left:342px;width:101.1px;top:545.8px">0.15~0.2</div>
<div class="cn" style="left:443.1px;width:101.7px;top:545.8px">3h</div>
<div class="cc" style="left:544.8px;width:101.1px;top:545.8px">ウールローラー刷毛</div>
<div class="st" style="top:426.1px"><span class="lat">FRP</span>仕様</div>
<div class="fn" style="top:563.9px">※強力なシーラーを使いたい場合、FRP用プライマーを使用してください。</div>
<div class="bt" style="top:623.3px"><span class="bn">8</span><span class="bx" style="transform:scaleX(0.860)">セルトップNW</span></div>
<div class="bt" style="top:636.2px"><span class="bn">7</span><span class="bx" style="transform:scaleX(0.808)">セルコートS防水材</span></div>
<div class="bt" style="top:649.1px"><span class="bn">6</span><span class="bx" style="transform:scaleX(0.808)">セルコートS防水材</span></div>
<div class="bt" style="top:662px"><span class="bn">5</span><span class="bx" style="transform:scaleX(0.808)">セルコートS防水材</span></div>
<div class="bt" style="top:674.9px"><span class="bn">4</span><span class="bx" style="transform:scaleX(0.912)">ガラスクロス</span></div>
<div class="bt" style="top:687.8px"><span class="bn">3</span><span class="bx" style="transform:scaleX(0.808)">セルコートS防水材</span></div>
<div class="bt" style="top:700.7px"><span class="bn">2</span><span class="bx" style="transform:scaleX(0.933)">FRP用プライマー</span></div>
<div class="hd" style="left:37.3px;width:101.3px;top:598.3px"><span class="sp">塗装工程</span></div>
<div class="hd" style="left:138.6px;width:101.5px;top:598.3px"><span class="sp">工程</span></div>
<div class="hd" style="left:240.1px;width:101.9px;top:598.3px"><span class="sp">材料名</span></div>
<div class="hd" style="left:342px;width:101.1px;top:598.3px"><span class="sp">塗布量</span></div>
<div class="hd" style="left:443.1px;width:101.7px;top:598.3px"><span class="sp">塗装間隔</span> <span class="t25">(25℃)</span></div>
<div class="hd" style="left:544.8px;width:101.1px;top:598.3px"><span class="sp">工具</span></div>
<div class="c2" style="top:611.2px"><span class="no">1</span>下地処理<span class=pn>(注1)</span></div>
<div class="c2" style="top:624.1px"><span class="no">2</span>シーラー塗布</div>
<div class="cc" style="left:240.1px;width:101.9px;top:624.1px">FRP用プライマー</div>
<div class="cn" style="left:342px;width:101.1px;top:624.1px">0.15~0.2</div>
<div class="cn" style="left:443.1px;width:101.7px;top:624.1px">3h</div>
<div class="cc" style="left:544.8px;width:101.1px;top:624.1px">ウールローラー刷毛</div>
<div class="c2" style="top:637px"><span class="no">3</span>主材</div>
<div class="cc" style="left:240.1px;width:101.9px;top:637px">セルコートS</div>
<div class="cn" style="left:342px;width:101.1px;top:637px">0.8~1.0</div>
<div class="cn" style="left:443.1px;width:101.7px;top:637px">1h以内</div>
<div class="cc" style="left:544.8px;width:101.1px;top:637px">砂骨ローラー細目</div>
<div class="c2" style="top:649.9px"><span class="no">4</span>クロス貼り</div>
<div class="cc" style="left:240.1px;width:101.9px;top:649.9px">ガラスクロス</div>
<div class="c2" style="top:662.8px"><span class="no">5</span>主材</div>
<div class="cc" style="left:240.1px;width:101.9px;top:662.8px">セルコートS</div>
<div class="cn" style="left:342px;width:101.1px;top:662.8px">0.8~1.0</div>
<div class="cn" style="left:443.1px;width:101.7px;top:662.8px">3h</div>
<div class="cc" style="left:544.8px;width:101.1px;top:662.8px">砂骨ローラー細目</div>
<div class="c2" style="top:675.7px"><span class="no">6</span>主材</div>
<div class="cc" style="left:240.1px;width:101.9px;top:675.7px">セルコートS</div>
<div class="cn" style="left:342px;width:101.1px;top:675.7px">0.8~1.0</div>
<div class="cn" style="left:443.1px;width:101.7px;top:675.7px">6h</div>
<div class="cc" style="left:544.8px;width:101.1px;top:675.7px">砂骨ローラー細目</div>
<div class="c2" style="top:688.6px"><span class="no">7</span>主材</div>
<div class="cc" style="left:240.1px;width:101.9px;top:688.6px">セルコートS</div>
<div class="cn" style="left:342px;width:101.1px;top:688.6px">0.8~1.0</div>
<div class="cn" style="left:443.1px;width:101.7px;top:688.6px">12h</div>
<div class="cc" style="left:544.8px;width:101.1px;top:688.6px">砂骨ローラー細目</div>
<div class="c2" style="top:701.5px"><span class="no">8</span>トップコート</div>
<div class="cc" style="left:240.1px;width:101.9px;top:701.5px">セルトップNW</div>
<div class="cn" style="left:342px;width:101.1px;top:701.5px">0.15~0.2</div>
<div class="cn" style="left:443.1px;width:101.7px;top:701.5px">3h</div>
<div class="cc" style="left:544.8px;width:101.1px;top:701.5px">ウールローラー刷毛</div>
<div class="st" style="top:579.6px">塩ビシート塗り替え仕様</div>
<div class="bt" style="top:777.8px"><span class="bn">4</span><span class="bx" style="transform:scaleX(0.860)">セルトップNW</span></div>
<div class="bt" style="top:790.7px"><span class="bn">3</span><span class="bx" style="transform:scaleX(0.860)">セルトップNW</span></div>
<div class="bt" style="top:803.6px"><span class="bn">2</span><span class="bx" style="transform:scaleX(0.937)">防水万能シーラー</span></div>
<div class="hd" style="left:37.3px;width:101.3px;top:752.8px"><span class="sp">塗装工程</span></div>
<div class="hd" style="left:138.6px;width:101.5px;top:752.8px"><span class="sp">工程</span></div>
<div class="hd" style="left:240.1px;width:101.9px;top:752.8px"><span class="sp">材料名</span></div>
<div class="hd" style="left:342px;width:101.1px;top:752.8px"><span class="sp">塗布量</span></div>
<div class="hd" style="left:443.1px;width:101.7px;top:752.8px"><span class="sp">塗装間隔</span> <span class="t25">(25℃)</span></div>
<div class="hd" style="left:544.8px;width:101.1px;top:752.8px"><span class="sp">工具</span></div>
<div class="c2" style="top:765.7px"><span class="no">1</span>下地処理<span class=pn>(注2)</span></div>
<div class="c2" style="top:778.6px"><span class="no">2</span>シーラー塗布</div>
<div class="cc" style="left:240.1px;width:101.9px;top:778.6px">防水万能シーラー</div>
<div class="cn" style="left:342px;width:101.1px;top:778.6px">0.2</div>
<div class="cn" style="left:443.1px;width:101.7px;top:778.6px">3h</div>
<div class="cc" style="left:544.8px;width:101.1px;top:778.6px">ウールローラー刷毛</div>
<div class="c2" style="top:791.5px"><span class="no">3</span>トップコート</div>
<div class="cc" style="left:240.1px;width:101.9px;top:791.5px">セルトップNW</div>
<div class="cn" style="left:342px;width:101.1px;top:791.5px">0.2</div>
<div class="cn" style="left:443.1px;width:101.7px;top:791.5px">3h</div>
<div class="cc" style="left:544.8px;width:101.1px;top:791.5px">ウールローラー刷毛</div>
<div class="c2" style="top:804.4px"><span class="no">4</span>トップコート</div>
<div class="cc" style="left:240.1px;width:101.9px;top:804.4px">セルトップNW</div>
<div class="cn" style="left:342px;width:101.1px;top:804.4px">0.2</div>
<div class="cn" style="left:443.1px;width:101.7px;top:804.4px">3h</div>
<div class="cc" style="left:544.8px;width:101.1px;top:804.4px">ウールローラー刷毛</div>
<div class="st" style="top:733.6px">旧塗膜トップ塗り替え仕様（塗膜防水・ウレタン防水・シート防水・アスファルト防水・・）</div>
<div class="notes"><span class="nh">注1</span>下地に付着した汚れ、ゴミ、油分、水分等を前もってきれいに清掃してください。表面のレイタンス等は集塵機できれいに除去してください。<br><span class="nh">注2</span>下地がFRP防水の場合は、施工する前にケレンしアセトン拭きが必要になります。<br><span class="nb">●</span>金属面には、エポキシ樹脂などの錆止め処理をした上で施工してください。</div>
<div class="botbar"></div>
</body></html>
